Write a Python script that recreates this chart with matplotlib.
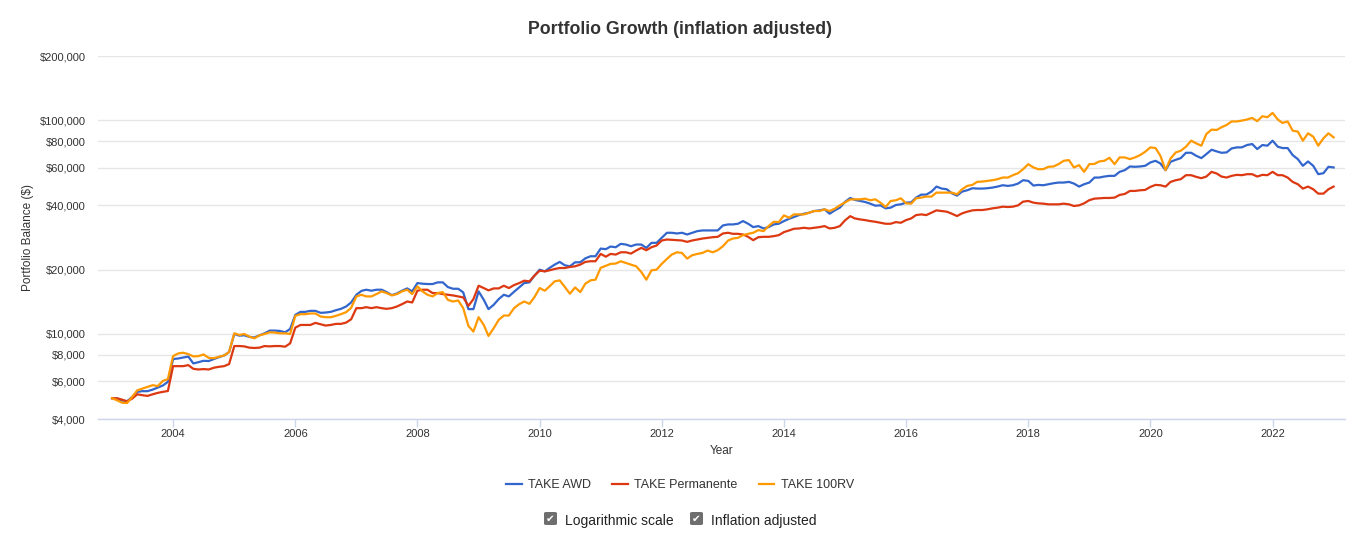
# plot.py
# Portfolio Growth (inflation adjusted) - three TAKE portfolios, log scale

import pandas as pd
import matplotlib
matplotlib.use("Agg")
import matplotlib.pyplot as plt
import matplotlib.dates as mdates
from matplotlib.patches import FancyBboxPatch
from matplotlib.ticker import FixedLocator, FuncFormatter, NullLocator

plt.rcParams['font.family'] = ['Liberation Sans', 'DejaVu Sans']

# monthly balances, Jan 2003 .. Jan 2023
dates = pd.date_range('2003-01-01', periods=241, freq='MS')

take_awd = [
    5000, 4980, 4890, 4840, 5070, 5360, 5400, 5400, 5490, 5610, 5740, 5970,
    7630, 7680, 7760, 7840, 7280, 7380, 7490, 7470, 7630, 7790, 7930, 8230,
    10000, 9820, 9860, 9690, 9630, 9860, 10070, 10370, 10370, 10330, 10180, 10560,
    12290, 12690, 12690, 12830, 12830, 12560, 12600, 12690, 12920, 13110, 13450, 14050,
    15260, 15920, 16110, 15940, 16110, 16110, 15700, 15200, 15480, 15940, 16340, 15820,
    17310, 17190, 17130, 17130, 17440, 17440, 16580, 16280, 16280, 15650, 13070, 13070,
    15820, 14450, 13070, 13690, 14560, 15260, 14990, 15760, 16520, 17310, 17440, 18750,
    20000, 19640, 20370, 21120, 21740, 20960, 20740, 21650, 21650, 22590, 23110, 23110,
    25100, 24950, 25660, 25470, 26410, 26220, 25750, 26220, 26220, 25290, 26700, 26700,
    28180, 29760, 29760, 29540, 29760, 29220, 29760, 30300, 30520, 30520, 30520, 30520,
    32210, 32560, 32560, 32800, 33760, 32800, 31640, 31980, 31180, 31640, 32560, 32800,
    33760, 34620, 35250, 36010, 36550, 36950, 37620, 37890, 38310, 36550, 37890, 39010,
    41500, 43300, 42420, 41930, 41480, 40730, 39860, 40000, 38730, 39010, 40150, 40440,
    41180, 41330, 43470, 44900, 44900, 46380, 48960, 47920, 47570, 45550, 44420, 46380,
    47060, 48090, 47920, 47920, 48090, 48440, 48960, 49680, 49320, 49680, 50580, 52440,
    52060, 49500, 49860, 49680, 50220, 50760, 51130, 51130, 51500, 50580, 48960, 50220,
    51130, 53970, 53970, 54560, 54960, 54960, 57380, 58440, 60810, 60590, 60810, 61250,
    63490, 64650, 62800, 58440, 63950, 65350, 66540, 70490, 70490, 68250, 66540, 69500,
    72830, 71520, 70490, 70750, 73880, 74700, 74700, 76620, 77450, 73360, 76620, 76070,
    80300, 75250, 74160, 74160, 68750, 65820, 61250, 64190, 61250, 55960, 56560, 60590,
    60160,
]

take_permanente = [
    5000, 5000, 4930, 4840, 4980, 5220, 5170, 5130, 5220, 5300, 5360, 5410,
    7070, 7070, 7070, 7150, 6870, 6820, 6850, 6820, 6950, 7020, 7070, 7230,
    8780, 8780, 8750, 8630, 8600, 8630, 8780, 8750, 8780, 8780, 8720, 9040,
    10710, 11020, 11020, 11020, 11270, 11110, 10950, 11020, 11150, 11150, 11310, 11720,
    13210, 13210, 13350, 13210, 13350, 13210, 13110, 13210, 13450, 13790, 14190, 14040,
    15940, 16110, 16110, 15540, 15540, 15370, 15260, 15150, 14990, 14830, 13540, 14560,
    16820, 16400, 16000, 16340, 16340, 16820, 16400, 16940, 17310, 17760, 17630, 18750,
    19780, 19640, 19860, 20150, 20360, 20360, 20590, 20740, 21120, 21740, 21900, 21900,
    23700, 23000, 23700, 23530, 24120, 24120, 23780, 24570, 25290, 24660, 25470, 25940,
    27380, 27680, 27580, 27480, 27380, 26990, 27380, 27680, 27970, 28180, 28380, 28490,
    29540, 29760, 29430, 29430, 29220, 28490, 27480, 28380, 28490, 28490, 28700, 29010,
    29980, 30520, 31070, 31180, 31410, 31180, 31410, 31640, 31980, 31180, 31410, 31980,
    34000, 35600, 34740, 34370, 34120, 33760, 33510, 33150, 32800, 32800, 33390, 33150,
    34120, 34740, 36010, 36280, 36010, 36950, 37890, 37620, 37350, 36550, 35640, 36680,
    37350, 37890, 38030, 38030, 38310, 38730, 39010, 39430, 39290, 39430, 40000, 41630,
    41930, 41180, 40880, 40730, 40440, 40440, 40440, 40730, 40440, 39720, 40000, 40880,
    42300, 43000, 43150, 43310, 43310, 43470, 44740, 45220, 46720, 46720, 47060, 47230,
    48790, 49860, 49680, 48960, 51500, 52440, 53020, 55360, 55360, 54370, 53590, 54560,
    57380, 56360, 54560, 53970, 54960, 55560, 55360, 55960, 55960, 54560, 55560, 55360,
    57380, 55360, 55360, 53970, 51500, 50220, 47910, 48960, 47570, 45380, 45380, 47570,
    48960,
]

take_100rv = [
    5000, 4890, 4770, 4750, 5070, 5450, 5550, 5650, 5760, 5700, 6030, 6150,
    7880, 8110, 8170, 8050, 7850, 7880, 8020, 7730, 7700, 7820, 7930, 8230,
    10070, 9890, 10000, 9720, 9540, 9860, 10000, 10180, 10150, 10070, 10070, 10000,
    12160, 12380, 12380, 12470, 12470, 12070, 11980, 11980, 12160, 12380, 12650, 13260,
    14990, 15260, 14990, 14990, 15370, 15820, 15540, 15150, 15370, 15820, 16110, 15370,
    16700, 15820, 15260, 14990, 15540, 15700, 14450, 14190, 14350, 13210, 10900, 10260,
    11980, 11020, 9790, 10630, 11640, 12200, 12200, 13210, 13790, 14190, 13840, 14880,
    16400, 15940, 16700, 17630, 17820, 16580, 15430, 16520, 15700, 17190, 17820, 17950,
    20400, 20850, 21280, 21360, 21890, 21490, 21120, 20740, 19500, 17950, 19860, 20000,
    21280, 22450, 23530, 24120, 23950, 22530, 23360, 23700, 23950, 24570, 24120, 24660,
    25750, 27380, 27970, 28180, 29010, 29430, 29760, 30630, 30300, 31980, 33510, 33390,
    35890, 35000, 36280, 36280, 36280, 36950, 37620, 37620, 38310, 37620, 38590, 40000,
    41300, 42600, 42680, 42680, 42990, 42240, 42680, 41180, 39290, 41930, 42240, 43150,
    40880, 40730, 43150, 43470, 43950, 43950, 45880, 45880, 45880, 45880, 45060, 47570,
    49320, 49860, 51500, 51690, 52060, 52440, 53020, 53970, 53970, 55360, 56560, 59070,
    62360, 60160, 59070, 59070, 60590, 60810, 62360, 64650, 65130, 60160, 61690, 57380,
    62360, 62500, 64190, 64650, 66780, 62360, 67030, 67030, 65820, 67030, 68750, 71260,
    74700, 74160, 68250, 58440, 66300, 70750, 72040, 75250, 80300, 78020, 76070, 86300,
    90450, 90130, 92770, 95150, 98800, 98800, 99700, 100900, 102600, 99100, 104500, 103400,
    108300, 100900, 97230, 98800, 89480, 88520, 80300, 86930, 83850, 76070, 82350, 86930,
    83250,
]

series_names = ['TAKE AWD', 'TAKE Permanente', 'TAKE 100RV']
series_colors = ['#3366cc', '#dc3912', '#ff9900']

y_ticks = [4000, 6000, 8000, 10000, 20000, 40000, 60000, 80000, 100000, 200000]
x_tick_years = list(range(2004, 2023, 2))

W, H = 1360, 549
fig = plt.figure(figsize=(W / 100, H / 100), dpi=100)
ax = fig.add_axes([98 / W, 1 - 419 / H, (1345 - 98) / W, (419 - 56) / H])

for vals, name, col in zip([take_awd, take_permanente, take_100rv], series_names, series_colors):
    ax.plot(dates, vals, color=col, linewidth=1.6, label=name, solid_joinstyle='round')

ax.set_yscale('log')
ax.set_ylim(4000, 200000)
ax.yaxis.set_major_locator(FixedLocator(y_ticks))
ax.yaxis.set_minor_locator(NullLocator())
ax.yaxis.set_major_formatter(FuncFormatter(lambda v, p: f"${v:,.0f}"))

ax.set_xlim(pd.Timestamp('2002-10-09'), pd.Timestamp('2023-03-10'))
ax.xaxis.set_major_locator(FixedLocator([mdates.date2num(pd.Timestamp(f'{y}-01-01')) for y in x_tick_years]))
ax.xaxis.set_major_formatter(mdates.DateFormatter('%Y'))

ax.grid(True, axis='y', color='#e6e6e6', linewidth=1)
ax.set_axisbelow(True)
for s in ['top', 'right', 'left']:
    ax.spines[s].set_visible(False)
ax.spines['bottom'].set_color('#ccd6eb')
ax.spines['bottom'].set_linewidth(1)

ax.tick_params(axis='y', length=0, pad=9, labelsize=8, labelcolor='#333333')
ax.tick_params(axis='x', length=6, width=1, color='#ccd6eb', pad=1.5, labelsize=8, labelcolor='#333333')

ax.set_xlabel('Year', fontsize=8.5, color='#333333', labelpad=4)
ax.set_ylabel('Portfolio Balance ($)', fontsize=8.5, color='#333333', labelpad=4)

fig.text(0.5, 1 - 30 / H, 'Portfolio Growth (inflation adjusted)', ha='center', va='center',
         fontsize=12.8, fontweight='bold', color='#333333')

fig.legend(loc='center', bbox_to_anchor=(0.5, 1 - 485 / H), ncol=3, frameon=False,
           fontsize=9, handlelength=1.25, handletextpad=0.5, columnspacing=1.7,
           labelcolor='#333333')

# checkboxes under the chart
for bx, label in [(544, 'Logarithmic scale'), (690, 'Inflation adjusted')]:
    box = FancyBboxPatch((bx / W, 1 - 525 / H), 13 / W, 13 / H,
                         boxstyle='round,pad=0,rounding_size=0.002',
                         transform=fig.transFigure, facecolor='#6e6e6e', edgecolor='none')
    fig.add_artist(box)
    fig.text((bx + 6.5) / W, 1 - 519 / H, '\u2714', ha='center', va='center', fontsize=7.5,
             color='white', family=['DejaVu Sans'])
    fig.text((bx + 21) / W, 1 - 521 / H, label, ha='left', va='center', fontsize=10,
             color='#222222')

fig.savefig('out.png', dpi=100)
print("Saved out.png")
